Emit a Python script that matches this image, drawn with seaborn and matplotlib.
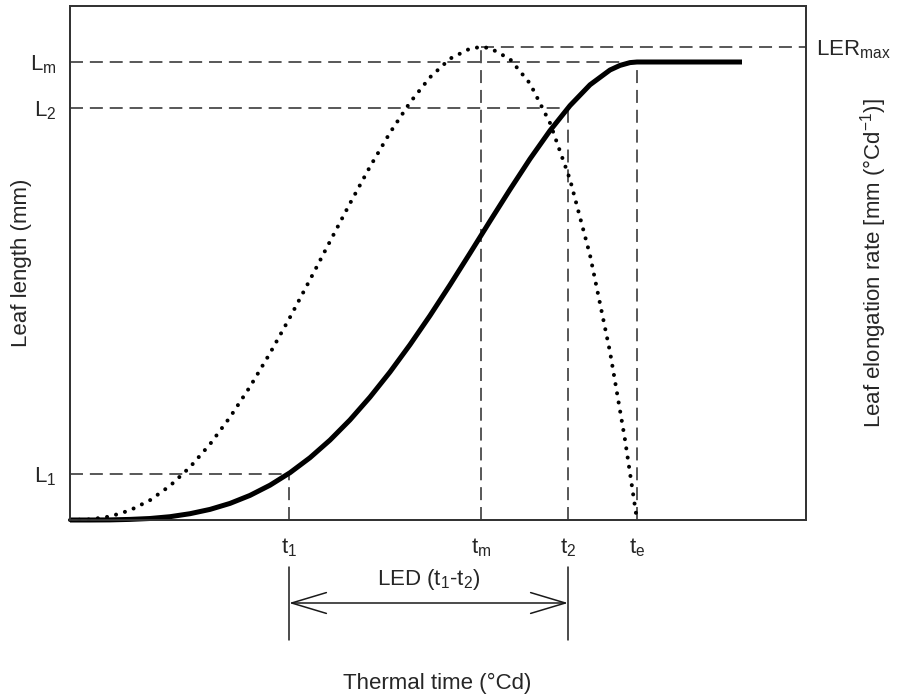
import matplotlib
matplotlib.use("Agg")
import matplotlib.pyplot as plt
import seaborn as sns
import pandas as pd

# ---- data (arbitrary units) ----
t_len = [0, 20, 40, 60, 80, 100, 120, 140, 160, 180, 200, 220, 240, 260, 280, 300,
         320, 340, 360, 380, 400, 420, 440, 460, 480, 500, 520, 540, 550, 560, 567, 672]
leaf_len = [0, 0, 0.1, 0.6, 1.5, 3.3, 6.3, 10.6, 16.6, 24.6, 34.8, 47.3, 62.3, 79.9, 100.1, 122.9,
            148.0, 175.3, 204.4, 235.1, 266.8, 298.9, 330.5, 361.1, 389.4, 414.4, 435.2, 450.0,
            454.6, 457.4, 458, 458]

t_rate = [0, 20, 40, 60, 80, 100, 120, 140, 160, 180, 200, 220, 240, 260, 280, 300, 320, 340,
          360, 380, 400, 411, 420, 440, 460, 480, 500, 520, 540, 555, 567]
ler = [0, 0.6, 3.5, 9.7, 19.8, 34.2, 52.9, 75.8, 102.8, 133.3, 166.8, 202.7, 240.3, 278.6, 316.6,
       353.3, 387.3, 417.5, 442.7, 461.3, 471.4, 473, 471.9, 460.9, 436.5, 397.0, 340.5, 264.9,
       168.1, 80.3, 0]

t_marks = {"t1": 219, "tm": 411, "t2": 498, "te": 567}
L_marks = {"L1": 46, "L2": 412, "Lm": 458}
LER_max = 473

x_tick_labels = [r"$\mathregular{t_1}$", r"$\mathregular{t_m}$", r"$\mathregular{t_2}$", r"$\mathregular{t_e}$"]
y_tick_labels = [r"$\mathregular{L_1}$", r"$\mathregular{L_2}$", r"$\mathregular{L_m}$"]

sns.set_style("white")
plt.rcParams["font.family"] = ["Liberation Sans", "DejaVu Sans"]
plt.rcParams["mathtext.fontset"] = "custom"
plt.rcParams["mathtext.rm"] = "Liberation Sans"

fig = plt.figure(figsize=(9.02, 6.98), dpi=100)
ax = fig.add_axes([70 / 902, 1 - 520 / 698, 736 / 902, 514 / 698])
ax2 = ax.twinx()

XMAX, YMAX = 736, 514
ax.set_xlim(0, XMAX)
ax.set_ylim(0, YMAX)
ax2.set_ylim(0, YMAX)

ink = "#1a1a1a"
dash_kw = dict(color="#2a2a2a", lw=1.1, dashes=(8.5, 4.5))

# reference dashed lines
ax.plot([0, t_marks["te"]], [L_marks["Lm"]] * 2, **dash_kw)
ax.plot([0, t_marks["t2"]], [L_marks["L2"]] * 2, **dash_kw)
ax.plot([0, t_marks["t1"]], [L_marks["L1"]] * 2, **dash_kw)
ax.plot([t_marks["tm"], XMAX], [LER_max] * 2, **dash_kw)
ax.plot([t_marks["t1"]] * 2, [0, L_marks["L1"]], **dash_kw)
ax.plot([t_marks["tm"]] * 2, [0, LER_max], **dash_kw)
ax.plot([t_marks["t2"]] * 2, [0, L_marks["L2"]], **dash_kw)
ax.plot([t_marks["te"]] * 2, [0, L_marks["Lm"]], **dash_kw)

# curves
df_len = pd.DataFrame({"t": t_len, "L": leaf_len})
df_rate = pd.DataFrame({"t": t_rate, "R": ler})
sns.lineplot(data=df_len, x="t", y="L", ax=ax, color="black", lw=3.6, sort=False,
             solid_capstyle="butt", solid_joinstyle="round", clip_on=False)
sns.lineplot(data=df_rate, x="t", y="R", ax=ax2, color="black", lw=2.9, sort=False,
             linestyle=(0, (0.01, 2.3)), dash_capstyle="round", clip_on=False)

# ticks
ax.set_xticks(list(t_marks.values()))
ax.set_xticklabels(x_tick_labels, fontsize=16)
ax.set_yticks([L_marks["L1"], L_marks["L2"], L_marks["Lm"]])
ax.set_yticklabels(y_tick_labels, fontsize=16)
ax.tick_params(axis="both", length=0)
ax.tick_params(axis="x", pad=12)
ax.tick_params(axis="y", pad=10)
ax2.set_yticks([LER_max])
ax2.set_yticklabels([r"$\mathregular{LER_{max}}$"], fontsize=16)
ax2.tick_params(axis="y", length=0, pad=7)

for a in (ax, ax2):
    for s in a.spines.values():
        s.set_color("#333333")
        s.set_linewidth(1.3)

ax.set_xlabel("")
ax.set_ylabel("")
ax2.set_ylabel("")
fig.text(22 / 902, 1 - 263 / 698, "Leaf length (mm)", fontsize=16, rotation=90,
         ha="center", va="center")
fig.text(874 / 902, 1 - 263 / 698, r"Leaf elongation rate [mm ($\mathregular{°Cd^{-1}}$)]",
         fontsize=16, rotation=90, ha="center", va="center")
fig.text(437 / 902, 1 - 683 / 698, "Thermal time (°Cd)", fontsize=16, ha="center", va="center")

# LED annotation below the axis
y_top, y_bot, y_arr = -47, -120, -83
for tv in (t_marks["t1"], t_marks["t2"]):
    ax.plot([tv, tv], [y_top, y_bot], color=ink, lw=1.1, clip_on=False)
ax.annotate("", xy=(t_marks["t1"], y_arr), xytext=(t_marks["t2"], y_arr),
            arrowprops=dict(arrowstyle="<->,head_length=2.5,head_width=0.75", color=ink,
                            lw=1.1, shrinkA=0, shrinkB=0, mutation_scale=10),
            annotation_clip=False)
ax.text((t_marks["t1"] + t_marks["t2"]) / 2, -60,
        r"LED ($\mathregular{t_1}$-$\mathregular{t_2}$)", fontsize=16, ha="center", va="center")

fig.savefig("out.png", dpi=100)
